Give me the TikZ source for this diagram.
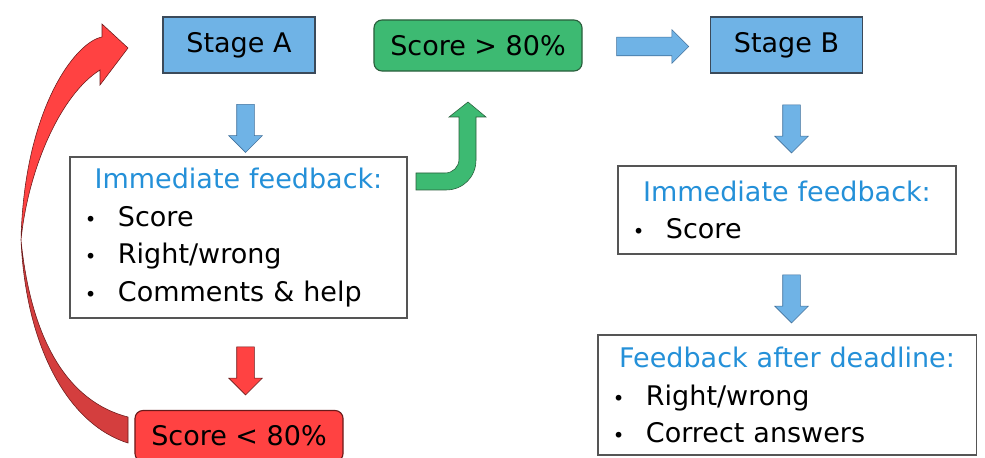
\documentclass[tikz,border=0pt]{standalone}
\usepackage{fontspec}
\setmainfont{DejaVu Sans}
\usetikzlibrary{shapes.arrows}

\definecolor{stageblue}{HTML}{6FB3E6}
\definecolor{stageline}{HTML}{3B4A5A}
\definecolor{passgreen}{HTML}{3DBA72}
\definecolor{passline}{HTML}{2A5E3C}
\definecolor{failred}{HTML}{FF4242}
\definecolor{faildark}{HTML}{D43E3E}
\definecolor{failline}{HTML}{6A1A1A}
\definecolor{headblue}{HTML}{2490D8}
\definecolor{boxline}{HTML}{555555}
\definecolor{arrowline}{HTML}{41719C}

\setlength\parindent{0pt}
\newcommand\bul[1]{\makebox[0.825cm][l]{\fontsize{14}{14}\selectfont\textbullet}#1}

\tikzset{
  bigtext/.style={font=\fontsize{19.2}{26.8}\selectfont},
  stagebox/.style={bigtext, draw=stageline, fill=stageblue, line width=0.8pt,
    minimum width=3.8cm, minimum height=1.4cm},
  scorebox/.style={bigtext, draw, rounded corners=0.2cm, line width=0.8pt,
    minimum width=5.2cm, minimum height=1.275cm},
  fbbox/.style={bigtext, draw=boxline, line width=0.8pt, align=left, inner xsep=0.375cm},
  downarrow/.style={single arrow, shape border rotate=270, draw=arrowline,
    fill=stageblue, inner sep=0.2125cm, single arrow head extend=0.2cm,
    minimum height=1.2cm}
}

\begin{document}
\begin{tikzpicture}[x=0.025cm, y=-0.025cm]
  \useasboundingbox (0,0) rectangle (985,458);

  % stages and scores
  \node[stagebox] (stageA) at (239,45) {Stage A};
  \node[scorebox, fill=passgreen, draw=passline] (pass) at (478,45.5) {Score > 80\%};
  \node[stagebox] (stageB) at (786.5,45) {Stage B};
  \node[scorebox, fill=failred, draw=failline] (fail) at (239,436) {Score < 80\%};

  % feedback boxes
  \node[fbbox, text width=7.675cm, minimum height=4.025cm] (fbA) at (238.5,237.5)
    {{\centering\color{headblue}Immediate feedback:\par}\bul{Score}\\\bul{Right/wrong}\\\bul{Comments \& help}};
  \node[fbbox, text width=7.7cm, minimum height=2.2cm] (fbB) at (787,210)
    {{\centering\color{headblue}Immediate feedback:\par}\bul{Score}};
  \node[fbbox, text width=8.7cm, minimum height=3cm] (late) at (787,395)
    {{\centering\color{headblue}Feedback after deadline:\par}\bul{Right/wrong}\\\bul{Correct answers}};

  % block arrows
  \node[downarrow] (toFbA) at (245.5,124) {};
  \node[downarrow, fill=failred, draw=failline] (toFail) at (245.5,366.5) {};
  \node[downarrow] (toFbB) at (791.5,124.5) {};
  \node[downarrow] (toLate) at (791.5,294.5) {};
  \node[downarrow, shape border rotate=0, minimum height=1.8cm, inner sep=0.225cm,
    single arrow head extend=0.1875cm] (toStageB) at (648,46.5) {};

  % bent arrow up to the pass box
  \draw[passline, fill=passgreen] (416,173) -- (445,173)
    .. controls (453,173) and (459,167) .. (459,159) -- (459,117) -- (449,117)
    -- (468,102) -- (486,117) -- (476,117) -- (476,160)
    .. controls (476,177) and (463,190) .. (446,190) -- (416,190) -- cycle;

  % curved arrow back to stage A
  \draw[failline, fill=faildark] (21,240) .. controls (26,350) and (70,425) .. (128,443)
    -- (128,417) .. controls (62,400) and (30,330) .. (21,240) -- cycle;
  \draw[failline, fill=failred] (102,37) .. controls (75,42) and (24,110) .. (21,240)
    .. controls (28,170) and (60,95) .. (100,70) -- (100,85) -- (128,48) -- (102,24) -- cycle;
\end{tikzpicture}
\end{document}
